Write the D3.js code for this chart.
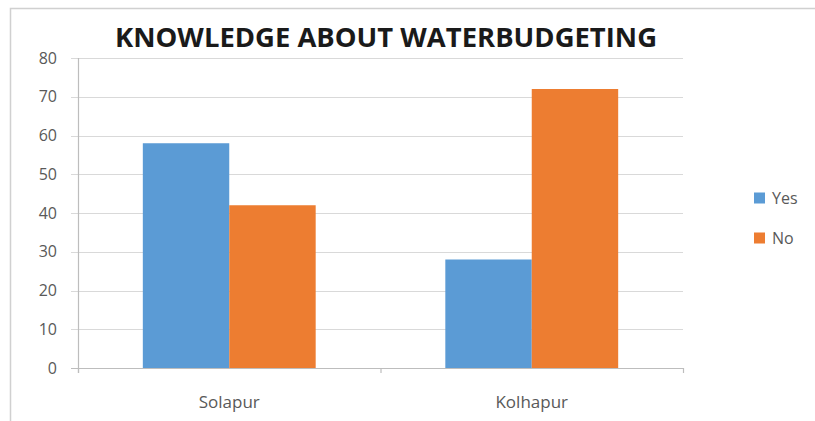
<!DOCTYPE html>
<html><head><meta charset="utf-8">
<script src="https://cdn.jsdelivr.net/npm/d3@7"></script>
<style>body{margin:0;background:#fff}</style>
</head><body>
<svg id="c" width="815" height="421"></svg>
<script>
const categories = ["Solapur", "Kolhapur"];
const seriesNames = ["Yes", "No"];
const yesValues = [58, 28];
const noValues = [42, 72];
const yTicks = [0, 10, 20, 30, 40, 50, 60, 70, 80];
const chartTitle = "KNOWLEDGE ABOUT WATERBUDGETING";
const colors = ["#5b9bd5", "#ed7d31"];

(function () {
const svg = d3.select("#c");
const font = "'Open Sans', 'Noto Sans', sans-serif";
// frame
svg.append("path").attr("d", "M10.5,421 V8.5 H815").attr("fill", "none").attr("stroke", "#d0d0d0").attr("stroke-width", 1.5);

const pL = 78, pR = 683, pT = 58, pB = 368;
const x = d3.scaleBand().domain(categories).range([pL, pR]).paddingInner(0).paddingOuter(0);
const y = d3.scaleLinear().domain([0, 80]).range([pB, pT]);
const x1 = d3.scaleBand().domain(seriesNames).range([0, x.bandwidth()]).paddingInner(0).paddingOuter(0.75);

// gridlines
svg.append("g").selectAll("line").data(yTicks).join("line")
  .attr("x1", pL - 7).attr("x2", pR)
  .attr("y1", d => Math.round(y(d)) + 0.5).attr("y2", d => Math.round(y(d)) + 0.5)
  .attr("stroke", d => d === 0 ? "#bdbdbd" : "#d9d9d9").attr("stroke-width", 1.2);

// y axis line
svg.append("line").attr("x1", pL + 0.5).attr("x2", pL + 0.5).attr("y1", pT).attr("y2", pB + 5)
  .attr("stroke", "#bdbdbd").attr("stroke-width", 1.2);
// x ticks
const xt = [pL, ...categories.slice(1).map(c => x(c)), pR];
svg.append("g").selectAll("line").data(xt).join("line")
  .attr("x1", d => d + 0.5).attr("x2", d => d + 0.5).attr("y1", pB).attr("y2", pB + 5)
  .attr("stroke", "#bdbdbd").attr("stroke-width", 1.2);

// y labels
svg.append("g").selectAll("text").data(yTicks).join("text")
  .attr("x", 57).attr("y", d => y(d)).attr("dy", "0.35em").attr("text-anchor", "end")
  .attr("font-family", font).attr("font-size", 16).attr("fill", "#595959").text(d => d);

// bars
const data = categories.map((c, i) => ({c, vals: [yesValues[i], noValues[i]]}));
const g = svg.append("g");
data.forEach(d => {
  d.vals.forEach((v, j) => {
    g.append("rect")
      .attr("x", x(d.c) + x1(seriesNames[j]))
      .attr("width", x1.bandwidth())
      .attr("y", y(v)).attr("height", y(0) - y(v))
      .attr("fill", colors[j]);
  });
});

// x labels
svg.append("g").selectAll("text").data(categories).join("text")
  .attr("x", d => x(d) + x.bandwidth() / 2).attr("y", 408).attr("text-anchor", "middle")
  .attr("font-family", font).attr("font-size", 17).attr("fill", "#595959").text(d => d);

// title
svg.append("text").attr("x", 386).attr("y", 47).attr("text-anchor", "middle")
  .attr("font-family", font).attr("font-weight", "bold").attr("font-size", 27)
  .attr("textLength", 542).attr("lengthAdjust", "spacingAndGlyphs")
  .attr("fill", "#1a1a1a").text(chartTitle);

// legend
const leg = svg.append("g");
seriesNames.forEach((s, i) => {
  const cy = 198 + i * 40;
  leg.append("rect").attr("x", 754).attr("y", cy - 5.5).attr("width", 11).attr("height", 11).attr("fill", colors[i]);
  leg.append("text").attr("x", 772).attr("y", cy).attr("dy", "0.35em")
    .attr("font-family", font).attr("font-size", 16).attr("fill", "#595959").text(s);
});
})();
</script>
</body></html>
